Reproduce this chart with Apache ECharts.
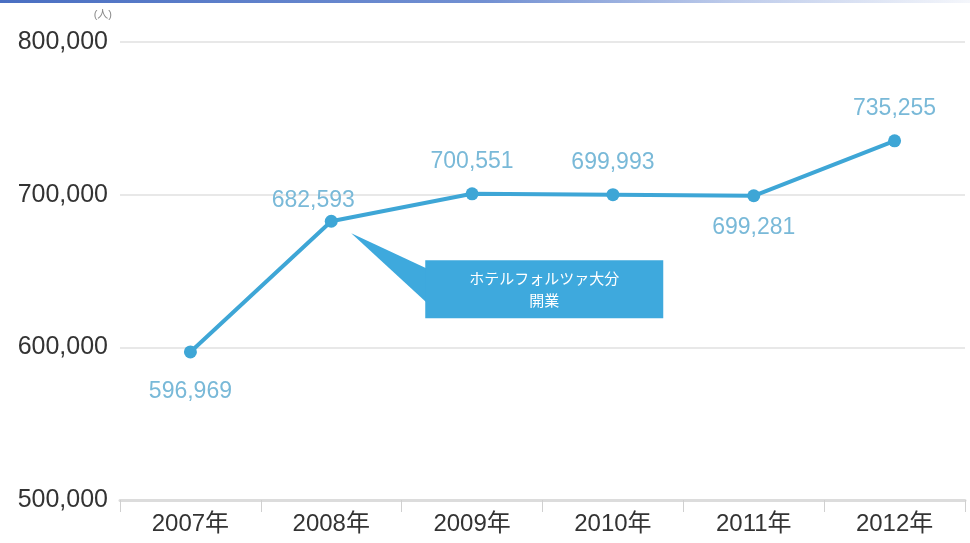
<!DOCTYPE html>
<html>
<head>
<meta charset="utf-8">
<title>宿泊者数の推移</title>
<script src="https://cdn.jsdelivr.net/npm/echarts@6/dist/echarts.min.js"></script>
<style>
  html, body { margin: 0; padding: 0; background: #fff; }
  #chart { width: 970px; height: 543px; }
</style>
</head>
<body>
<div id="chart"></div>
<script>
// 年別の宿泊者数（人）
const years = ['2007年', '2008年', '2009年', '2010年', '2011年', '2012年'];
const guests = [596969, 682593, 700551, 699993, 699281, 735255];
// ラベルを点の下に置く年
const labelBelow = [true, false, false, false, true, false];
const yTicks = [500000, 600000, 700000, 800000];
const unitText = '(人)';
const noteLines = ['ホテルフォルツァ大分', '開業'];
const noteIndex = 1;

const FONT = '"Liberation Sans", Arial, "Noto Sans CJK JP", sans-serif';
const LINE = '#3ea6d6';

const chart = echarts.init(document.getElementById('chart'));

const seriesData = guests.map((v, i) => ({
  value: v,
  label: i === noteIndex
    ? { position: 'top', offset: [-18, 2] }
    : { position: labelBelow[i] ? 'bottom' : 'top', distance: labelBelow[i] ? (i === 0 ? 22 : 14) : 14 }
}));

chart.setOption({
  animation: false,
  grid: { left: 120, right: 5, top: 42, bottom: 43 },
  xAxis: {
    type: 'category',
    data: years,
    boundaryGap: true,
    axisLine: { lineStyle: { color: '#dcdcdc', width: 3 } },
    axisTick: { show: true, length: 12, lineStyle: { color: '#d0d0d0', width: 1 } },
    axisLabel: { color: '#333', fontSize: 24, fontFamily: FONT, margin: 12 }
  },
  yAxis: {
    type: 'value',
    min: yTicks[0],
    max: yTicks[yTicks.length - 1],
    interval: yTicks[1] - yTicks[0],
    axisLine: { show: false },
    axisTick: { show: false },
    splitLine: { lineStyle: { color: '#e8e8e8', width: 2 } },
    axisLabel: {
      color: '#333', fontSize: 25, fontFamily: FONT, margin: 12,
      formatter: v => v.toLocaleString('en-US')
    }
  },
  series: [{
    type: 'line',
    data: seriesData,
    symbol: 'circle',
    symbolSize: 13,
    lineStyle: { color: LINE, width: 4 },
    itemStyle: { color: LINE },
    label: {
      show: true,
      color: '#79b9d8',
      fontSize: 23,
      fontFamily: FONT,
      formatter: p => p.value.toLocaleString('en-US')
    }
  }]
});

// 注記の吹き出しと上端の帯を配置
function placeGraphics() {
  const p = chart.convertToPixel({ seriesIndex: 0 }, [noteIndex, guests[noteIndex]]);
  const bx = p[0] + 94, by = p[1] + 39, bw = 238, bh = 58;
  chart.setOption({
    graphic: [
      {
        type: 'rect',
        shape: { x: 0, y: 0, width: 970, height: 3 },
        style: {
          fill: new echarts.graphic.LinearGradient(0, 0, 1, 0, [
            { offset: 0, color: '#4a6fc2' },
            { offset: 0.5, color: '#7290d2' },
            { offset: 0.75, color: '#bccaea' },
            { offset: 1, color: '#f4f6fb' }
          ])
        },
        silent: true
      },
      {
        type: 'text',
        style: {
          x: 112, y: 9, text: unitText, align: 'right', verticalAlign: 'top',
          fill: '#888', fontSize: 11, fontFamily: FONT
        },
        silent: true
      },
      {
        type: 'polygon',
        shape: { points: [[p[0] + 20, p[1] + 12], [bx + 1, by + 8], [bx + 1, by + 42]] },
        style: { fill: '#3ea9dd' },
        silent: true
      },
      {
        type: 'rect',
        shape: { x: bx, y: by, width: bw, height: bh },
        style: { fill: '#3ea9dd' },
        silent: true
      },
      {
        type: 'text',
        style: {
          x: bx + bw / 2, y: by + bh / 2, text: noteLines.join('\n'),
          align: 'center', verticalAlign: 'middle', lineHeight: 22,
          fill: '#fff', fontSize: 15, fontFamily: '"Noto Sans CJK JP", sans-serif'
        },
        silent: true
      }
    ]
  });
}
placeGraphics();
</script>
</body>
</html>
